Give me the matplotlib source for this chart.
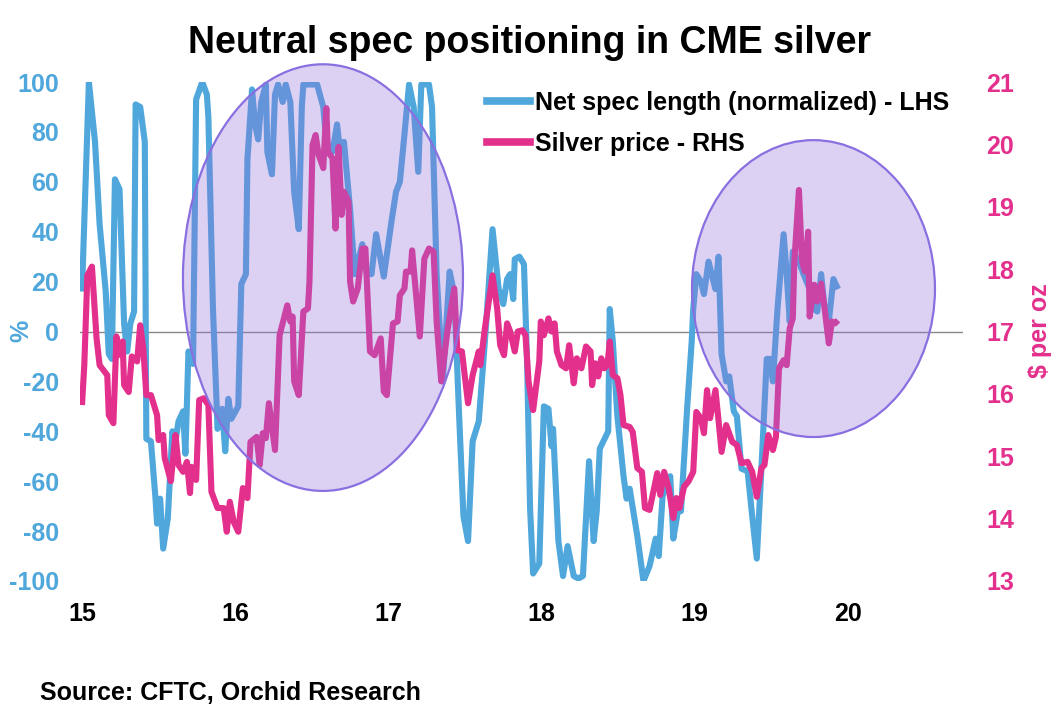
import matplotlib
matplotlib.use("Agg")
import matplotlib.pyplot as plt
from matplotlib.lines import Line2D
from matplotlib.patches import Ellipse

plt.rcParams["font.family"] = ["Liberation Sans", "DejaVu Sans"]
plt.rcParams["font.weight"] = "bold"

# ── Data (years as 15 = 2015 etc.) ──────────────────────────────────────────
spec_years = [
    15.00, 15.045, 15.085, 15.115, 15.155, 15.175, 15.195, 15.215, 15.245, 15.275,
    15.295, 15.315, 15.34, 15.35, 15.38, 15.41, 15.42, 15.45, 15.48, 15.49,
    15.51, 15.53, 15.56, 15.59, 15.61, 15.63, 15.66, 15.675, 15.695, 15.725,
    15.745, 15.785, 15.815, 15.825, 15.855, 15.885, 15.915, 15.935, 15.955, 15.975,
    16.02, 16.04, 16.07, 16.08, 16.11, 16.13, 16.15, 16.17, 16.20, 16.21,
    16.24, 16.26, 16.28, 16.31, 16.33, 16.36, 16.385, 16.415, 16.435, 16.445,
    16.535, 16.575, 16.595, 16.635, 16.665, 16.685, 16.71, 16.75, 16.78, 16.83,
    16.86, 16.89, 16.92, 16.97, 17.02, 17.05, 17.075, 17.105, 17.135, 17.165,
    17.195, 17.215, 17.265, 17.285, 17.315, 17.355, 17.385, 17.40, 17.43, 17.46,
    17.49, 17.52, 17.55, 17.59, 17.63, 17.68, 17.72, 17.75, 17.775, 17.795,
    17.815, 17.825, 17.855, 17.885, 17.905, 17.925, 17.945, 17.985, 18.015, 18.045,
    18.065, 18.075, 18.11, 18.14, 18.17, 18.21, 18.24, 18.27, 18.31, 18.34,
    18.36, 18.38, 18.435, 18.445, 18.465, 18.495, 18.535, 18.555, 18.575, 18.625,
    18.665, 18.705, 18.745, 18.765, 18.79, 18.84, 18.86, 18.89, 18.91, 18.95,
    18.98, 18.99, 19.01, 19.04, 19.06, 19.09, 19.11, 19.135, 19.155, 19.175,
    19.205, 19.225, 19.255, 19.275, 19.305, 19.345, 19.375, 19.405, 19.435, 19.47,
    19.49, 19.51, 19.54, 19.58, 19.60, 19.62, 19.64, 19.68, 19.71, 19.73,
    19.75, 19.78, 19.80, 19.825, 19.845, 19.875, 19.905, 19.935,
]
spec_pct = [
    16, 100, 76, 43, 16, -9, -11, 61, 57, 3,
    -8, 3, 8, 91, 90, 76, -43, -44, -67, -77,
    -67, -87, -75, -40, -44, -36, -32, -49, -8, -13,
    93, 100, 95, 86, 9, -39, -31, -48, -27, -35,
    -30, 19, 23, 69, 97, 83, 77, 92, 99, 72,
    63, 95, 99, 92, 99, 92, 56, 41, 90, 99,
    99, 90, 76, 72, 83, 72, 76, 49, 23, 35,
    23, 23, 39, 22, 44, 56, 60, 79, 99, 90,
    64, 99, 99, 90, 23, -20, 9, 24, 15, -31,
    -74, -84, -44, -36, -4, 41, 17, 11, 21, 23,
    13, 29, 30, 27, -11, -71, -97, -93, -30, -31,
    -46, -39, -84, -98, -86, -98, -99, -98, -52, -84,
    -72, -47, -40, 9, -4, -34, -58, -67, -63, -82,
    -100, -94, -83, -90, -66, -58, -83, -72, -72, -31,
    -4, 9, 23, 20, 15, 28, 23, 17, 30, -9,
    -20, -18, -32, -34, -55, -56, -74, -91, -55, -11,
    -11, -20, 9, 39, 23, 4, 32, 28, 23, 20,
    17, 9, 8, 23, 11, 4, 21, 17,
]

price_years = [
    15.00, 15.015, 15.035, 15.065, 15.095, 15.115, 15.165, 15.175, 15.205, 15.225,
    15.235, 15.265, 15.275, 15.305, 15.325, 15.36, 15.38, 15.40, 15.42, 15.45,
    15.49, 15.50, 15.53, 15.54, 15.58, 15.61, 15.63, 15.66, 15.685, 15.705,
    15.715, 15.745, 15.765, 15.795, 15.825, 15.845, 15.885, 15.925, 15.945, 15.965,
    15.99, 16.02, 16.05, 16.08, 16.10, 16.14, 16.16, 16.18, 16.20, 16.22,
    16.26, 16.29, 16.34, 16.36, 16.375, 16.385, 16.415, 16.445, 16.475, 16.485,
    16.505, 16.525, 16.545, 16.575, 16.595, 16.605, 16.635, 16.655, 16.675, 16.695,
    16.71, 16.74, 16.75, 16.77, 16.80, 16.83, 16.85, 16.88, 16.91, 16.95,
    16.97, 16.99, 17.03, 17.06, 17.075, 17.105, 17.115, 17.145, 17.155, 17.205,
    17.235, 17.265, 17.295, 17.315, 17.345, 17.385, 17.43, 17.45, 17.48, 17.52,
    17.55, 17.59, 17.60, 17.63, 17.68, 17.71, 17.73, 17.755, 17.775, 17.795,
    17.825, 17.845, 17.875, 17.895, 17.915, 17.945, 17.985, 17.995, 18.015, 18.045,
    18.065, 18.085, 18.10, 18.13, 18.16, 18.18, 18.21, 18.23, 18.26, 18.29,
    18.32, 18.33, 18.35, 18.37, 18.39, 18.41, 18.43, 18.445, 18.465, 18.495,
    18.515, 18.535, 18.575, 18.595, 18.625, 18.655, 18.675, 18.705, 18.755, 18.775,
    18.80, 18.83, 18.86, 18.88, 18.90, 18.93, 18.96, 18.99, 19.01, 19.04,
    19.06, 19.08, 19.10, 19.135, 19.155, 19.175, 19.205, 19.245, 19.275, 19.305,
    19.345, 19.375, 19.405, 19.435, 19.455, 19.48, 19.51, 19.53, 19.55, 19.58,
    19.60, 19.62, 19.64, 19.65, 19.68, 19.70, 19.72, 19.74, 19.75, 19.78,
    19.80, 19.825, 19.845, 19.875, 19.895, 19.915, 19.935,
]
price_usd = [
    15.82, 16.46, 17.90, 18.04, 16.89, 16.46, 16.30, 15.66, 15.53, 16.92,
    16.62, 16.84, 16.14, 16.03, 16.60, 16.52, 17.10, 16.73, 15.98, 15.98,
    15.66, 15.26, 15.34, 14.97, 14.60, 15.34, 14.86, 14.75, 14.91, 14.41,
    14.83, 14.62, 15.90, 15.93, 15.82, 14.43, 14.17, 14.17, 13.79, 14.27,
    13.95, 13.79, 14.49, 14.33, 15.23, 15.31, 14.86, 15.37, 15.29, 15.85,
    15.10, 16.94, 17.42, 17.16, 17.24, 16.20, 15.98, 17.32, 17.37, 17.80,
    19.99, 20.15, 19.83, 19.62, 20.58, 19.88, 19.78, 18.65, 19.96, 18.87,
    19.24, 19.08, 17.80, 17.48, 17.69, 18.33, 18.33, 16.68, 16.62, 16.89,
    16.04, 15.98, 17.13, 17.16, 17.58, 17.69, 17.96, 17.96, 18.30, 16.92,
    18.17, 18.33, 18.28, 17.16, 16.20, 17.00, 17.69, 16.70, 16.68, 15.85,
    16.30, 16.68, 16.46, 17.05, 17.90, 17.37, 16.78, 16.62, 17.13, 17.00,
    16.68, 17.00, 17.02, 16.94, 16.20, 15.74, 16.52, 17.16, 16.94, 17.21,
    17.00, 17.13, 16.68, 16.46, 16.41, 16.78, 16.17, 16.57, 16.41, 16.76,
    16.68, 16.14, 16.49, 16.28, 16.57, 16.41, 16.46, 16.84, 16.30, 16.25,
    15.98, 15.50, 15.47, 15.39, 14.81, 14.75, 14.17, 14.14, 14.73, 14.38,
    14.75, 14.49, 14.01, 14.33, 14.17, 14.51, 14.60, 14.75, 15.71, 15.61,
    15.37, 16.06, 15.61, 16.06, 15.58, 15.07, 15.50, 15.23, 15.18, 14.89,
    14.91, 14.75, 14.35, 14.81, 14.86, 15.34, 15.10, 15.31, 16.41, 16.54,
    16.46, 17.05, 17.21, 18.12, 19.27, 18.12, 17.96, 18.60, 17.24, 17.75,
    17.48, 17.77, 17.42, 16.81, 17.16, 17.13, 17.18,
]

x_ticks = [15, 16, 17, 18, 19, 20]
left_ticks = [100, 80, 60, 40, 20, 0, -20, -40, -60, -80, -100]
right_ticks = [21, 20, 19, 18, 17, 16, 15, 14, 13]

BLUE = "#4fa7dc"
PINK = "#e3308c"

# ── Plot ─────────────────────────────────────────────────────────────────────
fig = plt.figure(figsize=(10.59, 7.28), dpi=100)
ax = fig.add_axes([80 / 1059, 1 - 581 / 728, 883 / 1059, 499 / 728])
ax2 = ax.twinx()

ax.axhline(0, color="#888888", linewidth=1.0, zorder=1)
ax.plot(spec_years, spec_pct, color=BLUE, linewidth=4.4, zorder=2,
        solid_joinstyle="round", solid_capstyle="butt")
ax2.plot(price_years, price_usd, color=PINK, linewidth=4.4, zorder=2,
         solid_joinstyle="round", solid_capstyle="butt")

ax.set_xlim(14.987, 20.751)
ax.set_ylim(-100, 100)
ax2.set_ylim(13, 21)

# shaded ellipses highlighting the neutral-positioning episodes (in LHS units)
for cx, cy, w, h in [(16.573, 21.6, 1.828, 171), (19.775, 17.2, 1.586, 119)]:
    ax2.add_patch(Ellipse((cx, cy), w, h, transform=ax.transData,
                          facecolor=(0.576, 0.439, 0.859, 0.32),
                          edgecolor="#8a6fe0", linewidth=1.6,
                          zorder=5, clip_on=False))

ax.set_xticks(x_ticks)
ax.set_xticklabels([str(t) for t in x_ticks], fontsize=18, fontweight="bold")
ax.set_yticks(left_ticks)
ax.set_yticklabels([str(t) for t in left_ticks], fontsize=18,
                   fontweight="bold", color=BLUE)
ax2.set_yticks(right_ticks)
ax2.set_yticklabels([str(t) for t in right_ticks], fontsize=18,
                    fontweight="bold", color=PINK)
ax.tick_params(axis="x", length=0, pad=15)
ax.tick_params(axis="y", length=0, pad=15)
ax2.tick_params(axis="y", length=0, pad=17)

for a in (ax, ax2):
    for s in a.spines.values():
        s.set_visible(False)

fig.text(21 / 1059, 1 - 331 / 728, "%", rotation=90, ha="center", va="center",
         fontsize=18, fontweight="bold", color=BLUE)
fig.text(1040 / 1059, 1 - 331 / 728, r"\$ per oz", rotation=90, ha="center",
         va="center", fontsize=18, fontweight="bold", color=PINK)

handles = [
    Line2D([], [], color=BLUE, linewidth=5.5),
    Line2D([], [], color=PINK, linewidth=5.5),
]
ax2.legend(handles, ["Net spec length (normalized) - LHS", "Silver price - RHS"],
           loc="upper left", bbox_to_anchor=(487 / 1059, 1 - 91 / 728),
           bbox_transform=fig.transFigure, frameon=False,
           prop={"size": 18, "weight": "bold"}, handlelength=1.72,
           handletextpad=0.2, labelspacing=0.68, borderpad=0, borderaxespad=0)

fig.text(0.5, 1 - 43 / 728, "Neutral spec positioning in CME silver",
         ha="center", va="center", fontsize=27, fontweight="bold")
fig.text(40 / 1059, 1 - 693 / 728, "Source: CFTC, Orchid Research",
         ha="left", va="center", fontsize=18, fontweight="bold")

fig.savefig("out.png", dpi=100)
